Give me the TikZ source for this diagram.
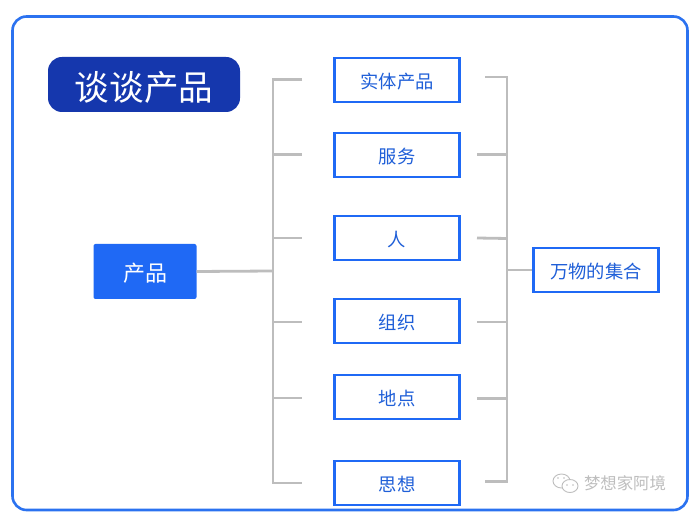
\documentclass[tikz,border=0pt]{standalone}
\usepackage{fontspec}
\setmainfont{Noto Sans CJK SC}
\definecolor{frameblue}{HTML}{2B72F0}
\definecolor{boxblue}{HTML}{1F69F5}
\definecolor{titleblue}{HTML}{1537AD}
\definecolor{linegray}{HTML}{BDBDBD}
\definecolor{textblue}{HTML}{1F5FD8}
\definecolor{markgray}{HTML}{BEBEBE}
\newcommand{\lowertext}[2]{\raisebox{-#1pt}[\height][\depth]{#2}}
\tikzset{
  itembox/.style={draw=boxblue,line width=2.2pt,fill=white,minimum width=125pt,minimum height=44pt,inner sep=0pt,text=textblue,font=\fontsize{18.3pt}{20pt}\selectfont},
  link/.style={draw=linegray,line width=2.8pt},
}
\begin{document}
\begin{tikzpicture}[x=1pt,y=-1pt]
\useasboundingbox[fill=white] (0,0) rectangle (698,526);
\draw[frameblue,line width=2.6pt,rounded corners=14pt,fill=white] (12.5,16.5) rectangle (687.5,510);

\node[fill=titleblue,rounded corners=14pt,minimum width=192pt,minimum height=55pt,inner sep=0pt,text=white,font=\fontsize{34.6pt}{38pt}\selectfont] (title) at (144,84.5) {\lowertext{3}{谈谈产品}};
\node[fill=boxblue,rounded corners=2pt,minimum width=103pt,minimum height=55pt,inner sep=0pt,text=white,font=\fontsize{22pt}{26pt}\selectfont] (prod) at (145,271.5) {\lowertext{2}{产品}};

\node[itembox] (a) at (397,80) {\lowertext{1.5}{实体产品}};
\node[itembox] (b) at (397,155) {\lowertext{1.5}{服务}};
\node[itembox] (c) at (397,238) {\lowertext{1.5}{人}};
\node[itembox] (d) at (397,321) {\lowertext{1.5}{组织}};
\node[itembox] (e) at (397,397) {\lowertext{1.5}{地点}};
\node[itembox] (f) at (397,483) {\lowertext{1.5}{思想}};
\node[itembox] (all) at (596,270) {\lowertext{1.5}{万物的集合}};

% left bracket
\coordinate (lj) at (273,271);
\coordinate (la) at (273,79.5);
\coordinate (lf) at (273,483);
\coordinate (ea) at (302,79.5);
\coordinate (eb) at (302,154.5);
\coordinate (ec) at (302,238);
\coordinate (ed) at (302,322);
\coordinate (ee) at (302,398);
\coordinate (ef) at (302,483);
\draw[link] (prod.east) -- (lj);
\draw[link] (ea) -- (la) -- (lf) -- (ef);
\draw[link] (273,154.5) -- (eb);
\draw[link] (273,238) -- (ec);
\draw[link] (273,322) -- (ed);
\draw[link] (273,398) -- (ee);

% right bracket
\coordinate (ra) at (507,77);
\coordinate (rf) at (507,481.5);
\coordinate (ga) at (485,77);
\coordinate (gb) at (477,154.5);
\coordinate (gc) at (477,238);
\coordinate (gd) at (477,322);
\coordinate (ge) at (477,398.5);
\coordinate (gf) at (485,481.5);
\draw[link] (ga) -- (ra) -- (rf) -- (gf);
\draw[link] (gb) -- (507,154.5);
\draw[link] (gc) -- (507,238.5);
\draw[link] (gd) -- (507,322);
\draw[link] (ge) -- (507,398.5);
\draw[link] (507,270) -- (all.west);

% watermark
\draw[markgray,line width=0.9pt,fill=white] (561.5,481) ellipse (8.5pt and 7pt);
\draw[markgray,line width=0.9pt,fill=white] (570,486) ellipse (8pt and 6.5pt);
\fill[markgray] (558,478) circle (0.9pt) (564,478) circle (0.9pt) (567,485) circle (0.8pt) (573,485) circle (0.8pt);
\node[text=markgray,inner sep=0pt,font=\fontsize{16.4pt}{18pt}\selectfont] (mark) at (625,483) {梦想家阿境};
\end{tikzpicture}
\end{document}
